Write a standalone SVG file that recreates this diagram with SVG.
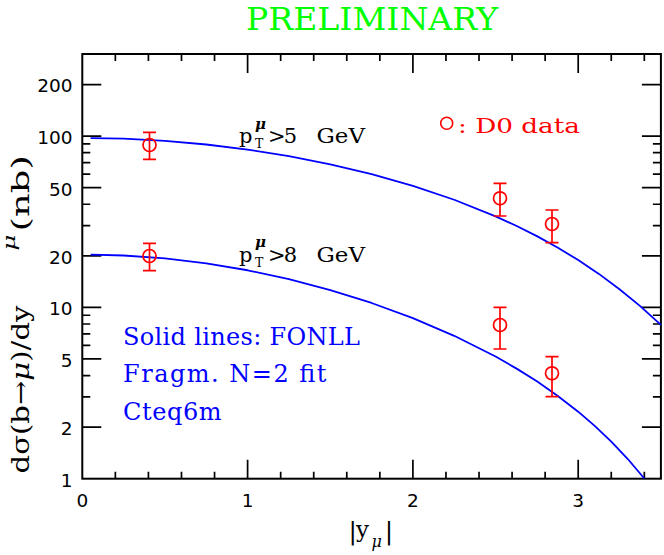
<svg xmlns="http://www.w3.org/2000/svg" width="664" height="555" viewBox="0 0 664 555">
<style>
.ax{fill:none;stroke:#000;stroke-width:2}
.tk{fill:none;stroke:#000;stroke-width:1.7}
.lab{font-family:"DejaVu Sans",sans-serif;font-size:18.5px;fill:#000}
.ser{font-family:"DejaVu Serif","Liberation Serif",serif}
.th{fill:none;stroke:#0000ff;stroke-width:1.8;stroke-linejoin:round}
.dat{fill:none;stroke:#ff0000;stroke-width:1.7}
.blue{fill:#0000ff;font-size:24px}
</style>
<rect width="664" height="555" fill="#fff"/>
<g id="title"><text class="ser" x="246" y="29.5" font-size="32" fill="#00ff00" textLength="252" lengthAdjust="spacingAndGlyphs">PRELIMINARY</text></g>
<g id="frame">
<rect class="ax" x="82.3" y="54" width="578.6" height="424.7"/>
<path class="tk" d="M82.3 427.13h19M82.3 358.97h19M82.3 307.4h19M82.3 255.83h19M82.3 187.67h19M82.3 136.1h19M82.3 84.53h19
M82.3 396.97h8M82.3 375.57h8M82.3 345.4h8M82.3 333.93h8M82.3 324h8M82.3 315.24h8M82.3 225.67h8M82.3 204.27h8M82.3 174.1h8M82.3 162.63h8M82.3 152.7h8M82.3 143.94h8
M660.9 427.13h-19M660.9 358.97h-19M660.9 307.4h-19M660.9 255.83h-19M660.9 187.67h-19M660.9 136.1h-19M660.9 84.53h-19
M660.9 396.97h-8M660.9 375.57h-8M660.9 345.4h-8M660.9 333.93h-8M660.9 324h-8M660.9 315.24h-8M660.9 225.67h-8M660.9 204.27h-8M660.9 174.1h-8M660.9 162.63h-8M660.9 152.7h-8M660.9 143.94h-8
M247.6 478.7v-19M412.9 478.7v-19M578.2 478.7v-19M247.6 54v19M412.9 54v19M578.2 54v19
M115.36 478.7v-7M148.42 478.7v-7M181.48 478.7v-7M214.54 478.7v-7M280.66 478.7v-7M313.72 478.7v-7M346.78 478.7v-7M379.84 478.7v-7M445.96 478.7v-7M479.02 478.7v-7M512.08 478.7v-7M545.14 478.7v-7M611.26 478.7v-7M644.32 478.7v-7
M115.36 54v7M148.42 54v7M181.48 54v7M214.54 54v7M280.66 54v7M313.72 54v7M346.78 54v7M379.84 54v7M445.96 54v7M479.02 54v7M512.08 54v7M545.14 54v7M611.26 54v7M644.32 54v7"/>
</g>
<g id="ylabels" class="lab" text-anchor="end">
<text x="72.5" y="92.3">200</text>
<text x="72.5" y="143.9">100</text>
<text x="72.5" y="195.5">50</text>
<text x="72.5" y="263.6">20</text>
<text x="72.5" y="315.2">10</text>
<text x="72.5" y="366.8">5</text>
<text x="72.5" y="434.9">2</text>
<text x="72.5" y="486.5">1</text>
</g>
<g id="xlabels" class="lab" text-anchor="middle">
<text x="82.5" y="506.7">0</text>
<text x="247.6" y="506.7">1</text>
<text x="412.9" y="506.7">2</text>
<text x="578.2" y="506.7">3</text>
</g>
<g id="ytitle" class="ser" font-size="25" fill="#000">
<text transform="translate(28.5,473.5) rotate(-90)" textLength="168" lengthAdjust="spacingAndGlyphs">dσ(b→<tspan font-style="italic">μ</tspan>)/dy</text>
<text transform="translate(15,250.5) rotate(-90)" font-size="16" font-style="italic" textLength="16" lengthAdjust="spacingAndGlyphs">μ</text>
<text transform="translate(28.5,231.5) rotate(-90)" textLength="76.5" lengthAdjust="spacingAndGlyphs">(nb)</text>
</g>
<g id="xtitle" class="ser" fill="#000">
<text x="352.8" y="538.5" font-size="25" text-anchor="middle">|</text>
<text x="356" y="536.5" font-size="23">y</text>
<text x="371.5" y="547" font-size="16" font-style="italic">μ</text>
<text x="389" y="538.5" font-size="25" text-anchor="middle">|</text>
</g>
<g id="connectors">
<polyline id="curve-pt5" class="th" points="90.6,138.03 123.6,138.72 165,140.89 206.3,144.51 247.6,149.59 288.9,156.17 330.3,164.31 371.6,174.14 412.9,185.85 454.2,199.76 495.6,216.31 516.2,225.77 536.9,236.14 557.5,247.52 578.2,260.06 598.9,273.9 619.5,289.2 640.2,306.14 660.9,324.95"/>
<polyline id="curve-pt8" class="th" points="90.6,254.54 123.6,255.49 165,258.44 206.3,263.37 247.6,270.26 288.9,279.14 330.3,290.02 371.6,302.97 412.9,318.14 454.2,335.82 495.6,356.57 516.2,368.38 536.9,381.35 557.5,395.69 578.2,411.69 594.7,425.91 611.3,441.61 627.8,459.04 644.3,478.48"/>
</g>
<g id="data" class="dat">
<path d="M149.5 132.3V159.3M143 132.3h13M143 159.3h13"/><circle cx="149.5" cy="145" r="6.5"/>
<path d="M149.5 243.3V270.7M143 243.3h13M143 270.7h13"/><circle cx="149.5" cy="256" r="6.5"/>
<path d="M500 183.3V216M493.5 183.3h13M493.5 216h13"/><circle cx="500" cy="198.3" r="6.5"/>
<path d="M552 210V242.7M545.5 210h13M545.5 242.7h13"/><circle cx="552" cy="224" r="6.5"/>
<path d="M500 307.3V349M493.5 307.3h13M493.5 349h13"/><circle cx="500" cy="325" r="6.5"/>
<path d="M552 356.7V396.7M545.5 356.7h13M545.5 396.7h13"/><circle cx="552" cy="373.3" r="6.5"/>
</g>
<g id="label-pt5" class="ser" fill="#000">
<text x="239" y="143.3" font-size="21">p</text>
<text x="255" y="129" font-size="15" font-style="italic" font-weight="bold">μ</text>
<text x="255" y="148.3" font-size="12.5">T</text>
<text x="268" y="143.3" font-size="21" textLength="29">&gt;5</text>
<text x="316.5" y="143.3" font-size="21" textLength="48.5" lengthAdjust="spacingAndGlyphs">GeV</text>
</g>
<g id="label-pt8" class="ser" fill="#000">
<text x="239" y="261.7" font-size="21">p</text>
<text x="255" y="247.4" font-size="15" font-style="italic" font-weight="bold">μ</text>
<text x="255" y="266.7" font-size="12.5">T</text>
<text x="268" y="261.7" font-size="21" textLength="29">&gt;8</text>
<text x="316.5" y="261.7" font-size="21" textLength="48.5" lengthAdjust="spacingAndGlyphs">GeV</text>
</g>
<g id="legend-data">
<circle cx="446.7" cy="123.3" r="6" fill="none" stroke="#ff0000" stroke-width="1.6"/>
<text class="ser" x="458" y="132.7" font-size="20" fill="#ff0000" textLength="122" lengthAdjust="spacingAndGlyphs">: D0 data</text>
</g>
<g id="legend-theory" class="ser blue">
<text x="123" y="345" textLength="237">Solid lines: FONLL</text>
<text x="123" y="382" textLength="203.5">Fragm. N=2 fit</text>
<text x="123" y="419.5" textLength="98.5">Cteq6m</text>
</g>
</svg>
